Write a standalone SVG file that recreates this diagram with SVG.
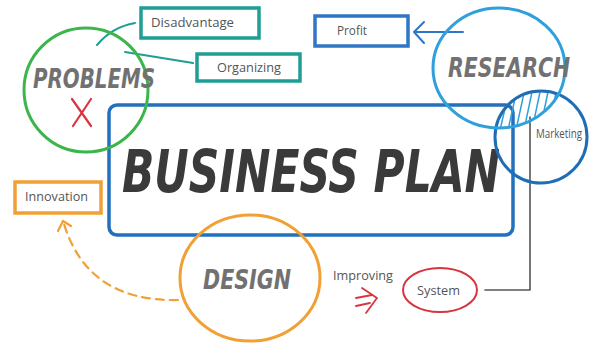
<svg xmlns="http://www.w3.org/2000/svg" width="590" height="364" viewBox="0 0 590 364">
<defs>
<style>
.lbl{font-family:"Open Sans","Noto Sans",sans-serif;font-size:13px;fill:#555}
.big{font-family:"DejaVu Sans Condensed","DejaVu Sans",sans-serif;font-weight:bold;font-style:italic;fill:#717171}
.ring{fill:none;stroke-width:3}
.box{fill:none;stroke-width:3.5}
.ln{fill:none;stroke-linecap:round;stroke-linejoin:round}
</style>
<clipPath id="resClip"><ellipse cx="499" cy="68" rx="66" ry="60"/></clipPath>
<clipPath id="mkClip"><circle cx="541" cy="137" r="46"/></clipPath>
</defs>
<rect width="590" height="364" fill="#fff"/>

<g id="connectors">
<path class="ln" d="M97,45 Q112,27 135,23" stroke="#1e9e94" stroke-width="2"/>
<path class="ln" d="M125,52 L193,63" stroke="#1e9e94" stroke-width="2"/>
<path class="ln" d="M463,32 L414,32 M424,22 L414,32 L424,43" stroke="#2f76c6" stroke-width="2"/>
<path class="ln" d="M530,117 L530,290 L485,290" stroke="#555" stroke-width="1.6"/>
<path class="ln" d="M178,300 Q88,302 64,224" stroke="#f0a035" stroke-width="2.2" stroke-dasharray="8 6"/>
<path class="ln" d="M58,231 L63,221 L71,226" stroke="#f0a035" stroke-width="2.2"/>
<path class="ln" d="M356,298 L372,295 M356,306 L370,303 M362,288 L377,298 L366,313" stroke="#d8353f" stroke-width="1.8"/>
</g>

<g id="business-plan">
<rect class="box" x="109" y="105" width="404" height="130" rx="8" stroke="#2270be" stroke-width="4"/>
<text class="big" x="122" y="192" font-size="58" textLength="378" lengthAdjust="spacingAndGlyphs" style="fill:#3a3a3a">BUSINESS PLAN</text>
</g>

<g id="problems">
<circle class="ring" cx="86" cy="90" r="62" stroke="#3cb54a"/>
<text class="big" x="33" y="88" font-size="26" textLength="122" lengthAdjust="spacingAndGlyphs">PROBLEMS</text>
<path class="ln" d="M72,99 L91,126 M91,99 L73,126" stroke="#d8353f" stroke-width="2.2"/>
</g>

<g id="disadvantage">
<rect class="box" x="141" y="8" width="118" height="30" stroke="#1e9e94" stroke-width="3"/>
<text class="lbl" x="151" y="27" textLength="83" lengthAdjust="spacingAndGlyphs">Disadvantage</text>
</g>

<g id="organizing">
<rect class="box" x="197" y="54" width="103" height="27" stroke="#1e9e94" stroke-width="3"/>
<text class="lbl" x="217" y="72" textLength="64" lengthAdjust="spacingAndGlyphs">Organizing</text>
</g>

<g id="profit">
<rect class="box" x="315" y="16" width="93" height="30" stroke="#2f76c6" stroke-width="3"/>
<text class="lbl" x="337" y="35" font-size="12" textLength="30" lengthAdjust="spacingAndGlyphs">Profit</text>
</g>

<g id="marketing">
<g clip-path="url(#resClip)">
<path class="ln" clip-path="url(#mkClip)" stroke="#30a0dc" stroke-width="1.5" d="M500,130 L508,96 M508,130 L516,94 M516,130 L524,93 M524,130 L532,92 M532,130 L540,92 M540,130 L548,92 M548,130 L556,93 M556,130 L564,94"/>
</g>
<circle class="ring" cx="541" cy="137" r="46" stroke="#1f6db5" stroke-width="2.5"/>
<text class="lbl" x="536" y="138" font-size="10.5" textLength="46" lengthAdjust="spacingAndGlyphs">Marketing</text>
</g>

<g id="research">
<ellipse class="ring" cx="499" cy="68" rx="66" ry="60" stroke="#30a0dc"/>
<text class="big" x="448" y="77" font-size="26" textLength="122" lengthAdjust="spacingAndGlyphs">RESEARCH</text>
</g>

<g id="innovation">
<rect class="box" x="15" y="182" width="86" height="31" stroke="#f0a035" stroke-width="3"/>
<text class="lbl" x="25" y="201" font-size="11.5" textLength="63" lengthAdjust="spacingAndGlyphs">Innovation</text>
</g>

<g id="design">
<ellipse class="ring" cx="250" cy="278" rx="70" ry="63" stroke="#f0a035"/>
<text class="big" x="203" y="289" font-size="26" textLength="88" lengthAdjust="spacingAndGlyphs">DESIGN</text>
</g>

<g id="improving">
<text class="lbl" x="333" y="280" textLength="60" lengthAdjust="spacingAndGlyphs">Improving</text>
</g>

<g id="system">
<ellipse cx="440" cy="290" rx="37" ry="22" fill="none" stroke="#d8353f" stroke-width="2"/>
<text class="lbl" x="417" y="295" font-size="12" textLength="43" lengthAdjust="spacingAndGlyphs">System</text>
</g>
</svg>
